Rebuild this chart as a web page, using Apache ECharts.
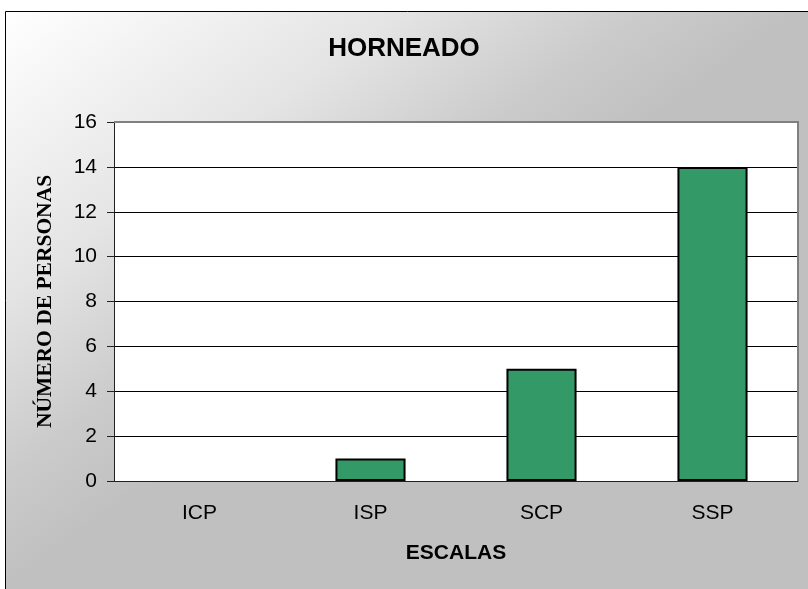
<!DOCTYPE html>
<html>
<head>
<meta charset="utf-8">
<script src="https://cdn.jsdelivr.net/npm/echarts@6/dist/echarts.min.js"></script>
<style>
  html, body { margin: 0; padding: 0; background: #fff; }
  #chart { width: 808px; height: 589px; }
</style>
</head>
<body>
<div id="chart"></div>
<script>
// Categories and counts per scale
const categories = ['ICP', 'ISP', 'SCP', 'SSP'];
const counts = [0, 1, 5, 14];
const titleText = 'HORNEADO';
const xName = 'ESCALAS';
const yName = 'NÚMERO DE PERSONAS';

// Plot area layout (pixels)
const G = { left: 114, top: 122, right: 10, bottom: 108 };
const W = 808, H = 589;

// Chart frame and its diagonal fill (corner-to-corner, isolines parallel to the anti-diagonal)
const frame = { x: 5, y: 11, w: 798, h: 578 };
const k = 2 * frame.w * frame.h / (frame.w * frame.w + frame.h * frame.h);
const gradEnd = [frame.x + frame.h * k, frame.y + frame.w * k];

// Empty bars are left without an outline
const barData = counts.map(v => v === 0 ? { value: v, itemStyle: { borderWidth: 0 } } : v);

const chart = echarts.init(document.getElementById('chart'), null, { renderer: 'canvas' });

chart.setOption({
  animation: false,
  backgroundColor: '#ffffff',
  graphic: [
    {
      type: 'rect',
      z: -10,
      silent: true,
      shape: { x: frame.x + 0.5, y: frame.y + 0.5, width: 820, height: 600 },
      style: {
        fill: new echarts.graphic.LinearGradient(frame.x, frame.y, gradEnd[0], gradEnd[1], [
          { offset: 0, color: '#ffffff' },
          { offset: 0.25, color: '#e4e4e4' },
          { offset: 0.4, color: '#cbcbcb' },
          { offset: 0.5, color: '#c0c0c0' },
          { offset: 1, color: '#c0c0c0' }
        ], true),
        stroke: '#000000',
        lineWidth: 1
      }
    },
    {
      type: 'polyline',
      z: 50,
      silent: true,
      shape: { points: [[G.left, G.top], [W - G.right, G.top], [W - G.right, H - G.bottom]] },
      style: { stroke: '#808080', lineWidth: 2, fill: null }
    }
  ],
  title: {
    text: titleText,
    left: 'center',
    top: 31,
    textStyle: { fontFamily: 'Liberation Sans', fontWeight: 'bold', fontSize: 26, color: '#000' }
  },
  grid: {
    left: G.left, top: G.top, right: G.right, bottom: G.bottom,
    show: true, backgroundColor: '#ffffff', borderWidth: 0
  },
  xAxis: {
    type: 'category',
    data: categories,
    name: xName,
    nameLocation: 'middle',
    nameGap: 62,
    nameTextStyle: { fontFamily: 'Liberation Sans', fontWeight: 'bold', fontSize: 21, color: '#000' },
    axisLine: { lineStyle: { color: '#222', width: 1 } },
    axisTick: { length: 7, lineStyle: { color: '#222' } },
    axisLabel: { margin: 22, fontFamily: 'Liberation Sans', fontSize: 21, color: '#000' },
    splitLine: { show: false }
  },
  yAxis: {
    type: 'value',
    min: 0, max: 16, interval: 2,
    name: yName,
    nameLocation: 'middle',
    nameRotate: 90,
    nameGap: 58,
    nameTextStyle: { fontFamily: 'Liberation Serif', fontWeight: 'bold', fontSize: 21.5, color: '#000' },
    axisLine: { show: true, lineStyle: { color: '#222', width: 1 } },
    axisTick: { show: true, length: 7, lineStyle: { color: '#222' } },
    axisLabel: { margin: 17, fontFamily: 'Liberation Sans', fontSize: 21, color: '#000' },
    splitLine: { show: true, lineStyle: { color: '#000', width: 1 } }
  },
  series: [{
    type: 'bar',
    data: barData,
    barWidth: '41%',
    itemStyle: { color: '#339966', borderColor: '#000', borderWidth: 2 }
  }]
});
</script>
</body>
</html>
